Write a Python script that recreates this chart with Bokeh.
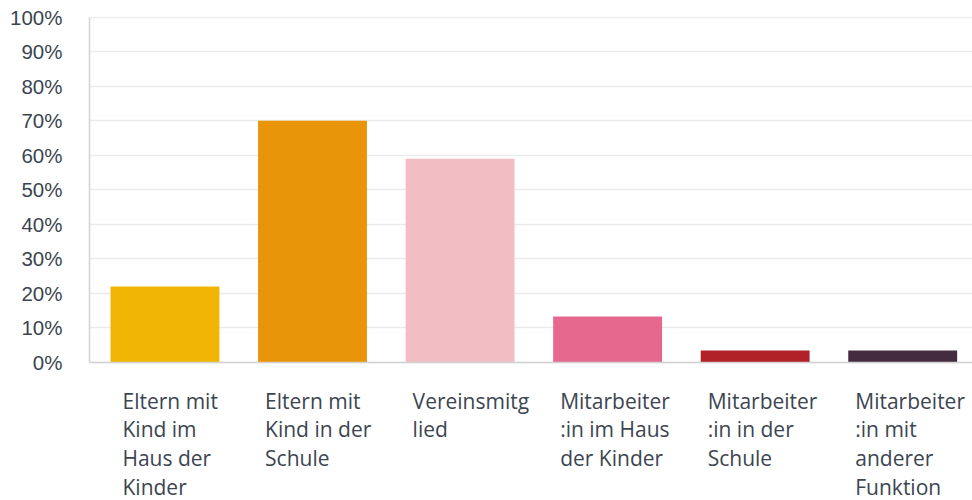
from bokeh.plotting import figure
from bokeh.models import ColumnDataSource, FixedTicker, Range1d, Span
from bokeh.core.properties import value
from bokeh.embed import file_html
from bokeh.resources import INLINE

# ---- data ----
categories = [
    "Eltern mit\nKind im\nHaus der\nKinder",
    "Eltern mit\nKind in der\nSchule",
    "Vereinsmitg\nlied",
    "Mitarbeiter\n:in im Haus\nder Kinder",
    "Mitarbeiter\n:in in der\nSchule",
    "Mitarbeiter\n:in mit\nanderer\nFunktion",
]
shares = [22, 70, 59, 13.3, 3.5, 3.5]
colors = ["#F0B505", "#E8950A", "#F2BDC3", "#E6688F", "#B12128", "#452B40"]
y_ticks = [0, 10, 20, 30, 40, 50, 60, 70, 80, 90, 100]
y_tick_labels = ["0%", "10%", "20%", "30%", "40%", "50%", "60%", "70%", "80%", "90%", "100%"]

xs = list(range(len(categories)))
# label blocks: left-aligned lines, block roughly centred under the bar
CHAR_W = 9.9
label_dx = [7 - 0.5 * CHAR_W * max(len(s) for s in c.split("\n")) for c in categories]
src = ColumnDataSource(dict(x=xs, top=shares, color=colors, label=categories,
                            base=[0] * len(xs), dx=label_dx))

TEXT = "#3C4551"

p = figure(width=972, height=500, output_backend="svg", toolbar_location=None,
           x_range=Range1d(-0.5115, 5.473), y_range=Range1d(-39.94, 100.15),
           min_border_left=89, min_border_right=0, min_border_top=16, min_border_bottom=0)
p.outline_line_color = None
p.background_fill_color = "white"
p.border_fill_color = "white"

p.vbar(x="x", top="top", width=0.738, color="color", source=src, line_color=None)

p.text(x="x", y="base", text="label", source=src, x_offset="dx", y_offset=24,
       text_font=value("Open Sans"), text_font_size="21px", text_color=TEXT,
       text_align="left", text_baseline="top", text_line_height=1.03)

p.xaxis.visible = False
p.xgrid.visible = False

ticker = FixedTicker(ticks=y_ticks)
p.yaxis.ticker = ticker
p.yaxis.bounds = (0, 100)
p.yaxis.major_label_overrides = {t: l for t, l in zip(y_ticks, y_tick_labels)}
p.yaxis.major_tick_line_color = None
p.yaxis.minor_tick_line_color = None
p.yaxis.major_tick_out = 0
p.yaxis.major_tick_in = 0
p.yaxis.major_label_standoff = 27
p.yaxis.axis_line_color = "#D2D2D2"
p.yaxis.axis_line_width = 1.5
p.yaxis.major_label_text_font = "Liberation Sans"
p.yaxis.major_label_text_font_size = "20.5px"
p.yaxis.major_label_text_color = TEXT

p.ygrid.ticker = ticker
p.ygrid.grid_line_color = "#EBEBEB"
p.ygrid.grid_line_width = 1.5

p.add_layout(Span(location=0, dimension="width", line_color="#D2D2D2", line_width=1.5))

open("out.html", "w").write(file_html(p, INLINE))
